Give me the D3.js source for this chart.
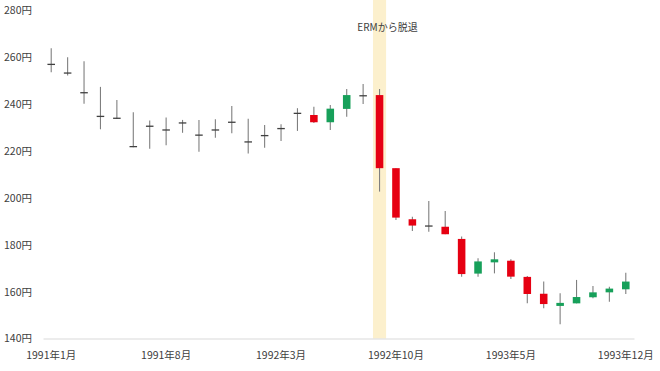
<!DOCTYPE html>
<html>
<head>
<meta charset="utf-8">
<script src="https://cdn.jsdelivr.net/npm/d3@7"></script>
<style>
  body { margin: 0; background: #fff; }
  svg text { font-family: "Noto Sans CJK JP", "Noto Sans", sans-serif; }
</style>
</head>
<body>
<div id="chart"></div>
<script>
// monthly candles, 1991年1月 .. 1993年12月 (円)
var months = [];
for (var yr = 1991; yr <= 1993; yr++) {
  for (var mo = 1; mo <= 12; mo++) months.push(yr + "年" + mo + "月");
}
var opens  = [257.0, 253.3, 244.9, 234.8, 234.0, 221.9, 230.6, 229.0, 232.0, 226.8, 229.0, 232.3,
              223.9, 226.6, 229.6, 236.1, 235.4, 232.3, 238.0, 243.6, 243.9, 212.7, 190.9, 188.0,
              187.7, 182.5, 167.7, 172.5, 173.2, 166.3, 159.1, 153.9, 155.0, 157.6, 159.7, 161.0];
var highs  = [263.9, 260.0, 258.3, 247.4, 241.8, 236.6, 233.1, 234.3, 233.3, 233.3, 233.6, 239.2,
              233.8, 231.1, 231.4, 238.3, 238.9, 239.7, 246.5, 248.6, 246.5, 212.7, 192.0, 198.7,
              194.4, 183.5, 174.2, 176.8, 173.8, 166.7, 164.3, 159.3, 165.0, 162.4, 162.1, 168.1];
var lows   = [253.6, 252.3, 240.2, 229.3, 233.7, 221.6, 221.0, 222.5, 227.8, 219.7, 225.7, 227.6,
              219.0, 221.4, 224.3, 228.6, 232.0, 229.0, 234.7, 240.1, 202.7, 190.6, 185.9, 185.6,
              184.5, 166.4, 166.4, 167.8, 165.4, 155.0, 152.9, 146.1, 155.0, 157.2, 155.7, 159.0];
var closes = [257.0, 253.3, 244.9, 234.8, 234.0, 221.9, 230.6, 229.0, 232.0, 226.8, 229.0, 232.3,
              223.9, 226.6, 229.6, 236.1, 232.3, 238.1, 243.9, 243.6, 212.7, 191.6, 188.2, 188.0,
              184.5, 167.5, 172.9, 173.8, 166.4, 159.0, 154.7, 155.2, 157.7, 159.7, 161.3, 164.3];
var yTicks = [140, 160, 180, 200, 220, 240, 260, 280];
var xTickIdx = [0, 7, 14, 21, 28, 35];
var ermMonth = "1992年9月";
var ermLabel = "ERMから脱退";

var data = months.map(function(m, i) {
  return {month: m, open: opens[i], high: highs[i], low: lows[i], close: closes[i]};
});

var width = 660, height = 371;
var margin = {top: 10.5, right: 26, bottom: 32.5, left: 43};

var svg = d3.select("#chart").append("svg")
    .attr("width", width)
    .attr("height", height);

var x = d3.scaleBand()
    .domain(months)
    .range([margin.left, width - margin.right])
    .padding(0);

var y = d3.scaleLinear()
    .domain([140, 280])
    .range([height - margin.bottom, margin.top]);

var step = x.step();

// ERM highlight band
svg.append("rect")
    .attr("x", x(ermMonth) + step * 0.1)
    .attr("y", 0)
    .attr("width", step * 0.8)
    .attr("height", y(140))
    .attr("fill", "#fcf0cd");

svg.append("text")
    .attr("x", x(ermMonth) + step * 0.5 + 8)
    .attr("y", 31)
    .attr("text-anchor", "middle")
    .attr("font-size", 10)
    .attr("fill", "#404040")
    .text(ermLabel);

// y axis labels only
var yAxis = svg.append("g")
    .attr("transform", "translate(" + margin.left + ",0)")
    .call(d3.axisLeft(y).tickValues(yTicks).tickSize(0).tickPadding(11)
      .tickFormat(function(d) { return d + "円"; }));
yAxis.select(".domain").remove();
yAxis.selectAll("text").attr("font-size", 10.5).attr("fill", "#404040");

// x axis
var xAxis = svg.append("g")
    .attr("transform", "translate(0," + y(140) + ")")
    .call(d3.axisBottom(x).tickValues(xTickIdx.map(function(i) { return months[i]; }))
      .tickSize(0).tickPadding(13));
xAxis.select(".domain").attr("stroke", "#d9d9d9");
xAxis.selectAll("text").attr("font-size", 10.5).attr("fill", "#404040");

// candles
var bodyW = step * 0.46;
var candles = svg.append("g").selectAll("g")
    .data(data)
    .enter().append("g")
    .attr("transform", function(d) { return "translate(" + (x(d.month) + step / 2) + ",0)"; });

candles.append("line")
    .attr("x1", 0).attr("x2", 0)
    .attr("y1", function(d) { return y(d.high); })
    .attr("y2", function(d) { return y(d.low); })
    .attr("stroke", "#7f7f7f")
    .attr("stroke-width", 1.1);

candles.each(function(d) {
  var g = d3.select(this);
  if (d.open == d.close) {
    g.append("line")
      .attr("x1", -bodyW / 2).attr("x2", bodyW / 2)
      .attr("y1", y(d.open)).attr("y2", y(d.open))
      .attr("stroke", "#404040")
      .attr("stroke-width", 1.3);
  } else {
    var col = d.close > d.open ? "#17a05a" : "#e60012";
    var top = y(Math.max(d.open, d.close)), bot = y(Math.min(d.open, d.close));
    g.append("rect")
      .attr("x", -bodyW / 2)
      .attr("y", top)
      .attr("width", bodyW)
      .attr("height", Math.max(bot - top, 1.5))
      .attr("fill", col);
  }
});
</script>
</body>
</html>
